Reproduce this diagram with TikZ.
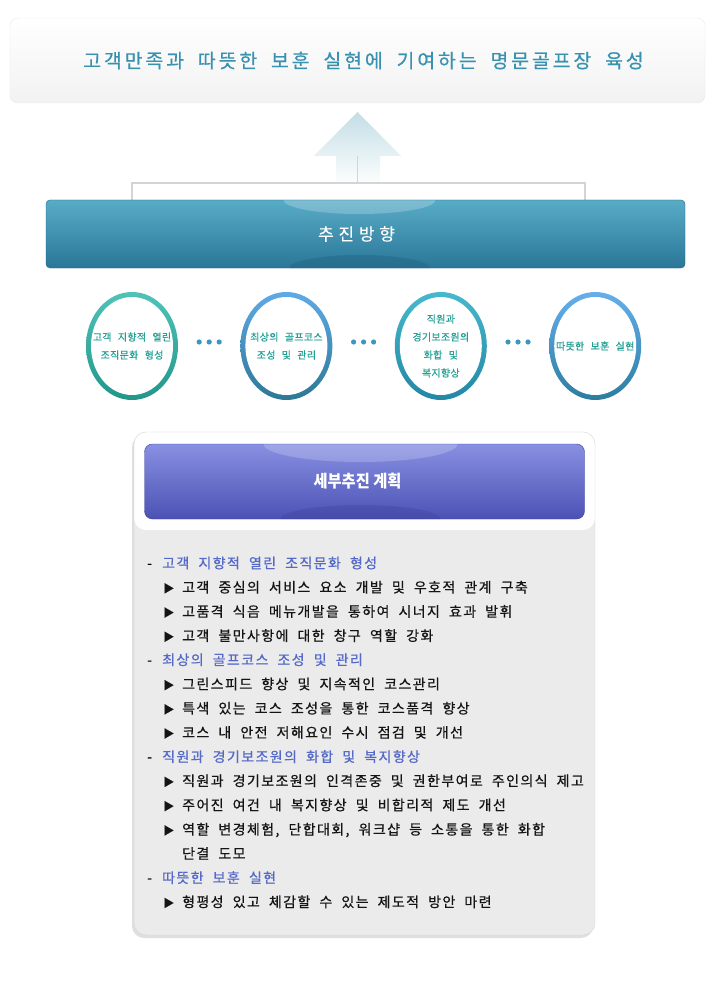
\documentclass[tikz,border=0pt]{standalone}
\usepackage{fontspec}
\setmainfont{Noto Sans CJK KR}
\newfontfamily\goalfont[LetterSpace=15,WordSpace=1.9,FakeBold=0.4]{Noto Sans CJK KR}
\newfontfamily\dirfont[LetterSpace=28,FakeBold=0.3]{Noto Sans CJK KR}
\newfontfamily\ringfont[LetterSpace=3,WordSpace=2.5,FakeBold=0.5]{Noto Sans CJK KR}
\newfontfamily\itemfont[LetterSpace=10,WordSpace=2,FakeBold=0.6]{Noto Sans CJK KR}
\usepackage{graphicx}
\usepackage{tikz}
\usetikzlibrary{shapes.geometric, positioning, calc, shadows}
\definecolor{goalblue}{RGB}{55,145,175}
\definecolor{goalline}{RGB}{232,232,232}
\definecolor{goalgray}{RGB}{242,242,242}
\definecolor{arrowtop}{RGB}{195,222,230}
\definecolor{bracketgray}{RGB}{212,212,212}
\definecolor{dirtop}{RGB}{88,172,198}
\definecolor{dirbot}{RGB}{42,118,152}
\definecolor{dirline}{RGB}{36,100,130}
\definecolor{ringtext}{RGB}{35,160,150}
\definecolor{ringAtop}{RGB}{80,195,185}
\definecolor{ringAbot}{RGB}{35,150,140}
\definecolor{ringBtop}{RGB}{95,170,230}
\definecolor{ringBbot}{RGB}{45,120,150}
\definecolor{ringCtop}{RGB}{70,185,205}
\definecolor{ringCbot}{RGB}{35,135,165}
\definecolor{ringDtop}{RGB}{100,175,235}
\definecolor{ringDbot}{RGB}{45,125,160}
\definecolor{dotblue}{RGB}{60,150,190}
\definecolor{panelgray}{RGB}{235,235,235}
\definecolor{panelline}{RGB}{215,215,215}
\definecolor{plantop}{RGB}{136,144,226}
\definecolor{planbot}{RGB}{76,82,180}
\definecolor{planline}{RGB}{60,65,156}
\definecolor{headblue}{RGB}{85,105,200}
\definecolor{itemblack}{RGB}{20,20,20}
\newcommand{\itemtri}{\makebox[19pt][l]{\fontsize{11}{11}\selectfont ▶}}
\newcommand{\headdash}{\makebox[15pt][l]{\color{black}-}}
\tikzstyle{goalbox} = [rectangle, rounded corners=8pt, minimum width=695pt, minimum height=85pt, draw=goalline, top color=white, bottom color=goalgray, text=goalblue, font=\goalfont\fontsize{19.4}{19.4}\selectfont]
\tikzstyle{dirbar} = [rectangle, rounded corners=4pt, minimum width=639pt, minimum height=68pt, draw=dirline, top color=dirtop, bottom color=dirbot, text=white, font=\dirfont\fontsize{17}{17}\selectfont, path picture={
    \fill[white, opacity=0.22] ([xshift=-6pt]path picture bounding box.north) ellipse (76pt and 14pt);
    \fill[dirline, opacity=0.45] ([xshift=-6pt]path picture bounding box.south) ellipse (70pt and 13pt);}]
\tikzstyle{ring} = [ellipse, minimum width=92pt, minimum height=108pt, inner xsep=-20pt, inner ysep=0pt, align=center, text=ringtext, font=\ringfont\fontsize{10}{18}\selectfont, path picture={\fill[white] (path picture bounding box.center) ellipse (41pt and 49pt);}]
\tikzstyle{panel} = [rectangle, rounded corners=12pt, minimum width=461pt, minimum height=503pt, draw=panelline, fill=panelgray, drop shadow={shadow xshift=-2pt, shadow yshift=-3pt, opacity=0.25}, path picture={\shade[top color=white, bottom color=black!3] (path picture bounding box.north west) rectangle ([yshift=-98pt]path picture bounding box.north east);}]
\tikzstyle{planbar} = [rectangle, rounded corners=8pt, minimum width=440pt, minimum height=75pt, draw=planline, top color=plantop, bottom color=planbot, text=white, font=\bfseries\fontsize{17}{17}\selectfont, path picture={
    \fill[white, opacity=0.2] ([xshift=-4pt]path picture bounding box.north) ellipse (97pt and 18pt);
    \fill[planline, opacity=0.35] ([xshift=-4pt]path picture bounding box.south) ellipse (80pt and 14pt);}]
\tikzstyle{head} = [anchor=west, inner sep=0pt, text=headblue, font=\itemfont\fontsize{14}{24.2}\selectfont]
\tikzstyle{item} = [anchor=west, inner sep=0pt, align=left, text=itemblack, font=\itemfont\fontsize{14}{24.2}\selectfont]
\tikzstyle{bracketline} = [draw=bracketgray, line width=1.6pt]
\begin{document}
\begin{tikzpicture}[x=1pt, y=-1pt]
        \fill[white] (0,0) rectangle (714,1000);
        \useasboundingbox (0,0) rectangle (714,1000);
        \node (goal) [goalbox] at (357.5,60.5) {\hspace*{12pt}고객만족과 따뜻한 보훈 실현에 기여하는 명문골프장 육성};
        \shade[top color=arrowtop, bottom color=white] (357.5,112) -- (401,156) -- (380,156) -- (380,186) -- (336,186) -- (336,156) -- (314,156) -- cycle;
        \draw [bracketline] (132,201) |- (585,183) -- (585,201);
        \draw [bracketline] (357.5,183) -- (357.5,156);
        \node (dir) [dirbar] at (365.5,234) {\hspace*{-18pt}추진방향};
        \node (c1) [ring, top color=ringAtop, bottom color=ringAbot] at (132,346) {고객 지향적 열린\\조직문화 형성};
        \node (c2) [ring, top color=ringBtop, bottom color=ringBbot, right=62pt of c1] {최상의 골프코스\\조성 및 관리};
        \node (c3) [ring, top color=ringCtop, bottom color=ringCbot, right=62pt of c2] {직원과\\경기보조원의\\화합 및\\복지향상};
        \node (c4) [ring, top color=ringDtop, bottom color=ringDbot, right=62pt of c3] {따뜻한 보훈 실현};
        \foreach \a/\b in {c1/c2, c2/c3, c3/c4}
            \foreach \dx in {-10,0,10}
                \fill[dotblue] ($(\a)!0.5!(\b)+(\dx,-4)$) circle (2.6pt);
        \node (plan) [panel] at (364.5,683.5) {};
        \node (plantitle) [planbar, below=12pt of plan.north] {\hspace*{-14pt}\scalebox{0.9}[1]{세부추진 계획}};
        \node (h1) [head] at (147,563) {\headdash 고객 지향적 열린 조직문화 형성};
        \node (b1) [below right=24.2pt and 16pt of h1.west, item] {\itemtri 고객 중심의 서비스 요소 개발 및 우호적 관계 구축};
        \node (b2) [below=24.2pt of b1.west, item] {\itemtri 고품격 식음 메뉴개발을 통하여 시너지 효과 발휘};
        \node (b3) [below=24.2pt of b2.west, item] {\itemtri 고객 불만사항에 대한 창구 역할 강화};
        \node (h2) [below left=24.2pt and 16pt of b3.west, head] {\headdash 최상의 골프코스 조성 및 관리};
        \node (b4) [below right=24.2pt and 16pt of h2.west, item] {\itemtri 그린스피드 향상 및 지속적인 코스관리};
        \node (b5) [below=24.2pt of b4.west, item] {\itemtri 특색 있는 코스 조성을 통한 코스품격 향상};
        \node (b6) [below=24.2pt of b5.west, item] {\itemtri 코스 내 안전 저해요인 수시 점검 및 개선};
        \node (h3) [below left=24.2pt and 16pt of b6.west, head] {\headdash 직원과 경기보조원의 화합 및 복지향상};
        \node (b7) [below right=24.2pt and 16pt of h3.west, item] {\itemtri 직원과 경기보조원의 인격존중 및 권한부여로 주인의식 제고};
        \node (b8) [below=24.2pt of b7.west, item] {\itemtri 주어진 여건 내 복지향상 및 비합리적 제도 개선};
        \node (b9) [below=36.3pt of b8.west, item] {\itemtri 역할 변경체험, 단합대회, 워크샵 등 소통을 통한 화합\\\hspace*{19pt}단결 도모};
        \node (h4) [below left=36.3pt and 16pt of b9.west, head] {\headdash 따뜻한 보훈 실현};
        \node (b10) [below right=24.2pt and 16pt of h4.west, item] {\itemtri 형평성 있고 체감할 수 있는 제도적 방안 마련};
    \end{tikzpicture}
\end{document}
